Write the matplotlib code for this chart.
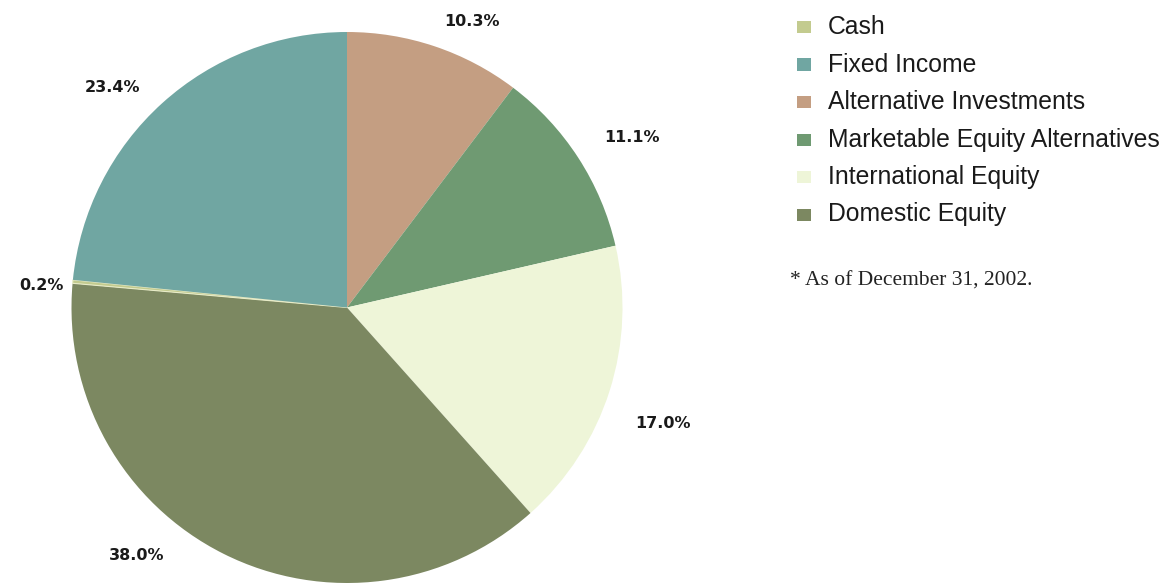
import matplotlib
matplotlib.use("Agg")
from matplotlib import pyplot as plt
from matplotlib.patches import Rectangle

# slices, clockwise from 12 o'clock
slices = ['Alternative Investments', 'Marketable Equity Alternatives',
          'International Equity', 'Domestic Equity', 'Cash', 'Fixed Income']
shares = [10.3, 11.1, 17.0, 38.0, 0.2, 23.4]
pct_labels = ['10.3%', '11.1%', '17.0%', '38.0%', '0.2%', '23.4%']

legend_order = ['Cash', 'Fixed Income', 'Alternative Investments',
                'Marketable Equity Alternatives', 'International Equity',
                'Domestic Equity']
footnote = '* As of December 31, 2002.'

colors = {
    'Cash': '#c3cb8f',
    'Fixed Income': '#70a6a2',
    'Alternative Investments': '#c49e82',
    'Marketable Equity Alternatives': '#6f9a72',
    'International Equity': '#eef5d8',
    'Domestic Equity': '#7c8861',
}

W, H = 1170, 583
fig = plt.figure(figsize=(W / 100, H / 100), dpi=100)

cx, cy, r = 347, 307.5, 275.5
ax = fig.add_axes([(cx - r) / W, (H - cy - r) / H, 2 * r / W, 2 * r / H])
wedges, _ = ax.pie(shares, colors=[colors[s] for s in slices], startangle=90,
                   counterclock=False, radius=1,
                   wedgeprops=dict(linewidth=0))
# thin light line at the cash slice
wedges[4].set_edgecolor('#e8ecc8')
wedges[4].set_linewidth(0.8)
ax.set_xlim(-1, 1)
ax.set_ylim(-1, 1)
ax.set_aspect('equal')
ax.axis('off')

# percentage labels (pixel positions)
label_pos = [(472, 22), (632, 138), (663, 424), (137, 555), (41, 286), (113, 87)]
for txt, (px, py) in zip(pct_labels, label_pos):
    fig.text(px / W, 1 - py / H, txt, ha='center', va='center',
             fontsize=11.5, fontweight='bold', family='DejaVu Sans',
             color='#1a1a1a')

# legend
y0, step = 27, 37.5
for i, name in enumerate(legend_order):
    y = y0 + i * step
    fig.add_artist(Rectangle(((804 - 7) / W, 1 - (y + 6) / H), 14 / W, 12 / H,
                             transform=fig.transFigure,
                             facecolor=colors[name], edgecolor='none'))
    fig.text(828 / W, 1 - y / H, name, ha='left', va='center',
             fontsize=17.8, family='Liberation Sans', color='#1a1a1a')

fig.text(790 / W, 1 - 281 / H, footnote, ha='left', va='center',
         fontsize=15.5, family='Liberation Serif', color='#222222')

plt.savefig('out.png', dpi=100)
